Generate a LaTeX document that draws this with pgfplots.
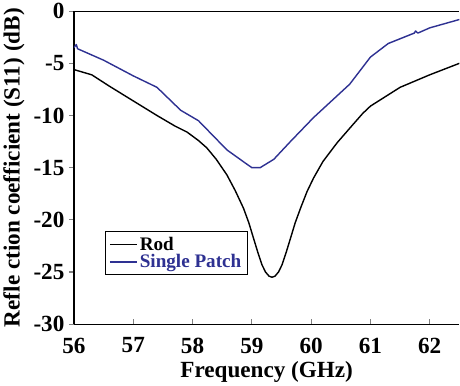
\documentclass[border=0pt]{standalone}
\usepackage{pgfplots}
\pgfplotsset{compat=1.18}
\usepackage{fontspec}
\setmainfont{Liberation Serif}
\definecolor{patchblue}{RGB}{46,49,146}
\begin{document}
\begin{tikzpicture}
\begin{axis}[
  scale only axis,
  width=383pt, height=311pt,
  xmin=56, xmax=62.5, ymin=-30, ymax=0,
  xtick={56,57,...,62}, ytick={-30,-25,...,0},
  axis lines*=left,
  axis line style={line width=1.2pt},
  x tick style={line width=1.2pt},
  y tick style={line width=1.2pt},
  xtick align=inside, ytick align=outside,
  major tick length=5pt,
  /pgf/number format/assume math mode=true,
  tick label style={font=\fontsize{23}{25}\selectfont\bfseries},
  xticklabel shift=10pt,
  yticklabel style={xshift=-1pt},
  label style={font=\fontsize{23}{25}\selectfont\bfseries},
  xlabel={Frequency (GHz)},
  ylabel={Refle ction coefficient (S11) (dB)},
  xlabel style={yshift=-1pt},
  ylabel style={yshift=2pt},
  legend style={at={(axis cs:56.52,-21.1)}, anchor=north west,
    draw=black, line width=1pt, font=\fontsize{19}{20}\selectfont\bfseries,
    inner xsep=4pt, inner ysep=3pt, row sep=-1pt},
  legend cell align=left,
  legend image code/.code={\draw[#1] (0pt,0pt) -- (27pt,0pt);},
  legend image post style={line width=1.3pt},
  after end axis/.code={\draw[line width=1.2pt] (rel axis cs:0,1) -- (rel axis cs:1,1);},
]
% Rod antenna, measured S11
\addplot[black, line width=1.4pt, line join=round] coordinates {
 (56.00,-5.6) (56.30,-6.1) (56.60,-7.2) (57.00,-8.6) (57.40,-10.0)
 (57.70,-11.0) (57.91,-11.6) (58.10,-12.4) (58.24,-13.1) (58.40,-14.2)
 (58.58,-15.7) (58.72,-17.2) (58.86,-18.9) (58.95,-20.3) (59.03,-21.8)
 (59.10,-23.1) (59.17,-24.3) (59.23,-25.0) (59.29,-25.4) (59.34,-25.5)
 (59.39,-25.4) (59.45,-25.0) (59.51,-24.3) (59.58,-23.1) (59.65,-21.8)
 (59.73,-20.3) (59.82,-18.9) (59.93,-17.3) (60.04,-16.0) (60.20,-14.4)
 (60.44,-12.6) (60.70,-10.9) (60.87,-9.8) (61.00,-9.1) (61.50,-7.3)
 (62.00,-6.1) (62.50,-5.0)
};
\addlegendentry{\textcolor{black}{Rod}}
% Single patch, measured S11
\addplot[patchblue, line width=1.4pt, line join=round] coordinates {
 (56.00,-3.5) (56.04,-3.2) (56.06,-3.6) (56.50,-4.7) (57.00,-6.2)
 (57.40,-7.3) (57.80,-9.5) (58.10,-10.5) (58.58,-13.3) (58.90,-14.6)
 (59.00,-15.0) (59.14,-15.0) (59.37,-14.2) (59.65,-12.5) (60.04,-10.2)
 (60.65,-7.0) (61.00,-4.4) (61.30,-3.1) (61.74,-2.1) (61.76,-1.9)
 (61.80,-2.1) (62.00,-1.6) (62.50,-0.8)
};
\addlegendentry{\textcolor{patchblue}{Single Patch}}
\end{axis}
\end{tikzpicture}
\end{document}
